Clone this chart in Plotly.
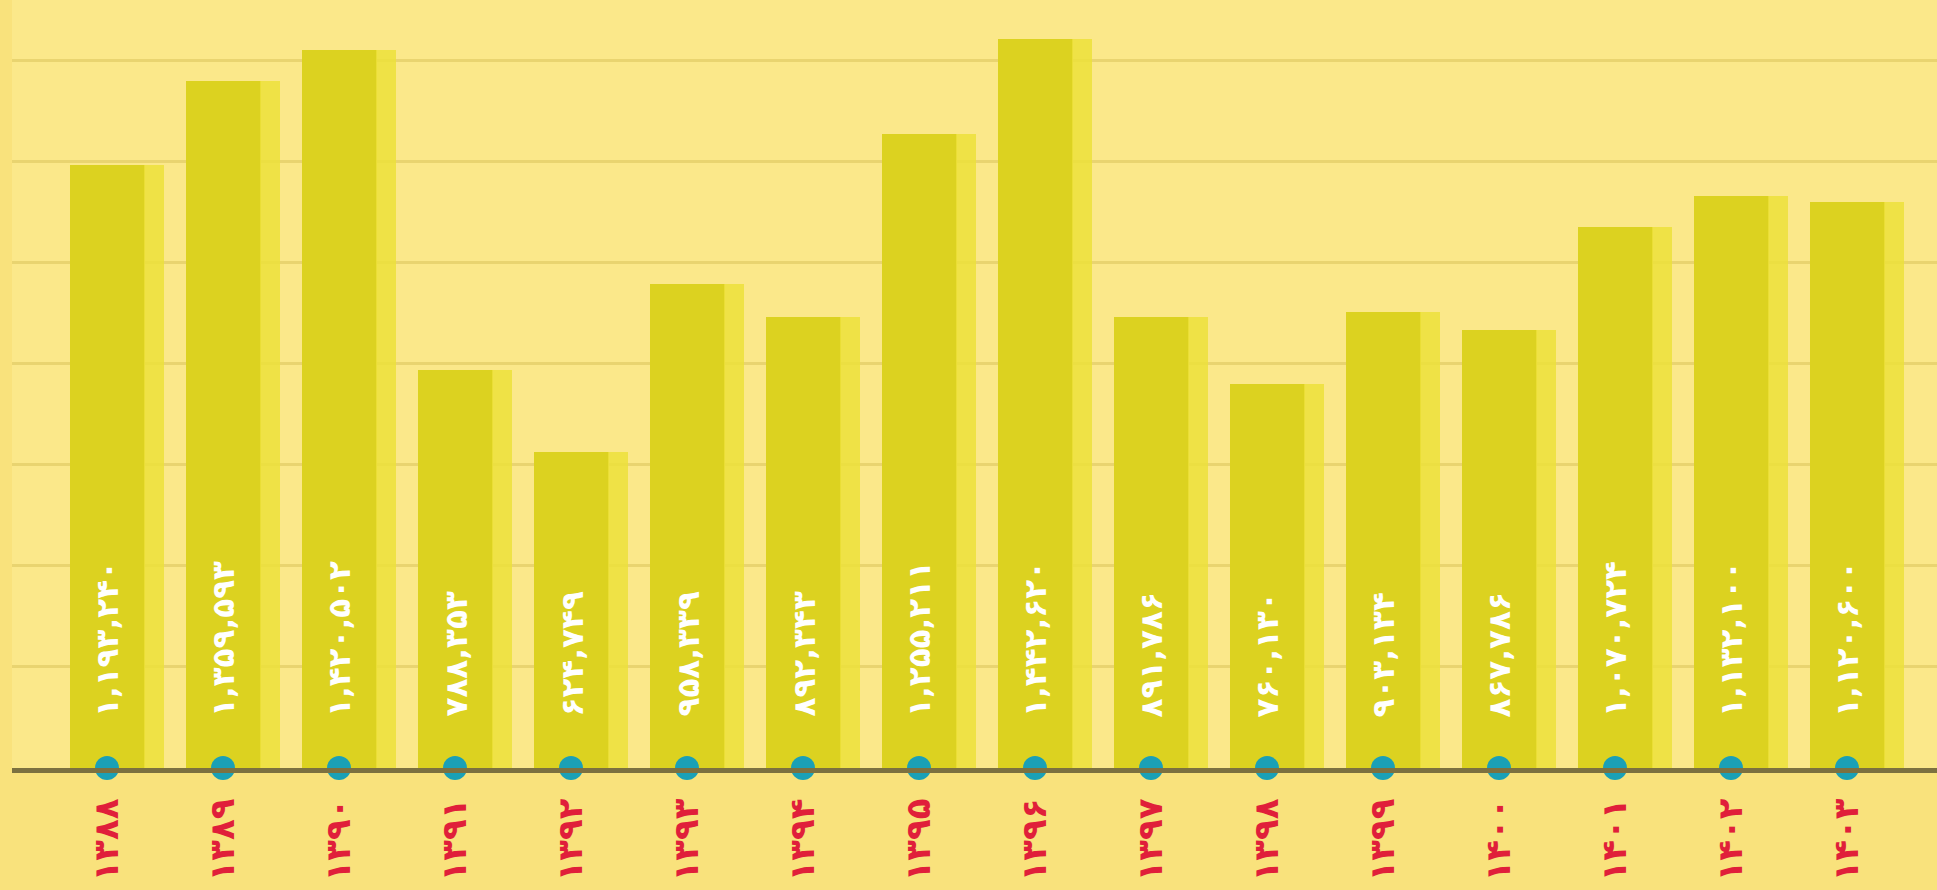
import plotly.graph_objects as go

# ---- data ----
years = [1388, 1389, 1390, 1391, 1392, 1393, 1394, 1395,
         1396, 1397, 1398, 1399, 1400, 1401, 1402, 1403]
values = [1193240, 1359593, 1420502, 788353, 624749, 958339, 892343, 1255211,
          1442620, 891786, 760130, 903134, 867786, 1070724, 1132100, 1120600]

FA = str.maketrans("0123456789", "۰۱۲۳۴۵۶۷۸۹")


def fa(s):
    return str(s).translate(FA)


year_labels = [fa(y) for y in years]
value_labels = [fa(f"{v:,}") for v in values]
xs = list(range(len(years)))

fig = go.Figure()

# main bar body
fig.add_trace(go.Bar(
    x=xs, y=values, width=0.647, offset=-0.323,
    marker=dict(color="#dcd220", line=dict(width=0)),
    hoverinfo="skip", showlegend=False,
))
# lighter highlight strip on the right of each bar
fig.add_trace(go.Bar(
    x=xs, y=values, width=0.172, offset=0.323,
    marker=dict(color="rgba(236,224,58,0.85)", line=dict(width=0)),
    hoverinfo="skip", showlegend=False,
))
# teal dots on the axis
fig.add_trace(go.Scatter(
    x=xs, y=[0] * len(xs), mode="markers",
    marker=dict(color="#1aa0b6", size=24, line=dict(width=0)),
    cliponaxis=False, hoverinfo="skip", showlegend=False,
))

annotations = []
for x, t in zip(xs, value_labels):
    annotations.append(dict(
        x=x, y=0, xref="x", yref="y", text="<b>" + t + "</b>", showarrow=False,
        textangle=-90, xanchor="center", yanchor="bottom", yshift=49,
        font=dict(family="DejaVu Sans", size=31, color="white"),
    ))

fig.update_layout(
    width=1937, height=890,
    margin=dict(l=12, r=0, t=0, b=122),
    paper_bgcolor="#f9e27c",
    plot_bgcolor="#fbe88a",
    barmode="overlay",
    bargap=0,
    annotations=annotations,
    font=dict(family="DejaVu Sans"),
)
fig.update_xaxes(
    range=[-0.819, 15.776],
    tickmode="array", tickvals=xs, ticktext=year_labels,
    tickangle=-90,
    tickfont=dict(family="DejaVu Sans", size=34, color="#e01f3a", weight="bold"),
    ticks="", ticklabelstandoff=12,
    showline=True, linecolor="#7c7140", linewidth=5,
    showgrid=False, zeroline=False,
)
fig.update_yaxes(
    range=[0, 1520000], dtick=200000, tick0=0,
    showticklabels=False, showgrid=True, gridcolor="#e9d470", gridwidth=3,
    zeroline=False, showline=False,
)

fig.write_html(
    "out.html",
    config={"displayModeBar": False},
    post_script="document.body.style.margin='0';document.body.style.overflow='hidden';",
)
